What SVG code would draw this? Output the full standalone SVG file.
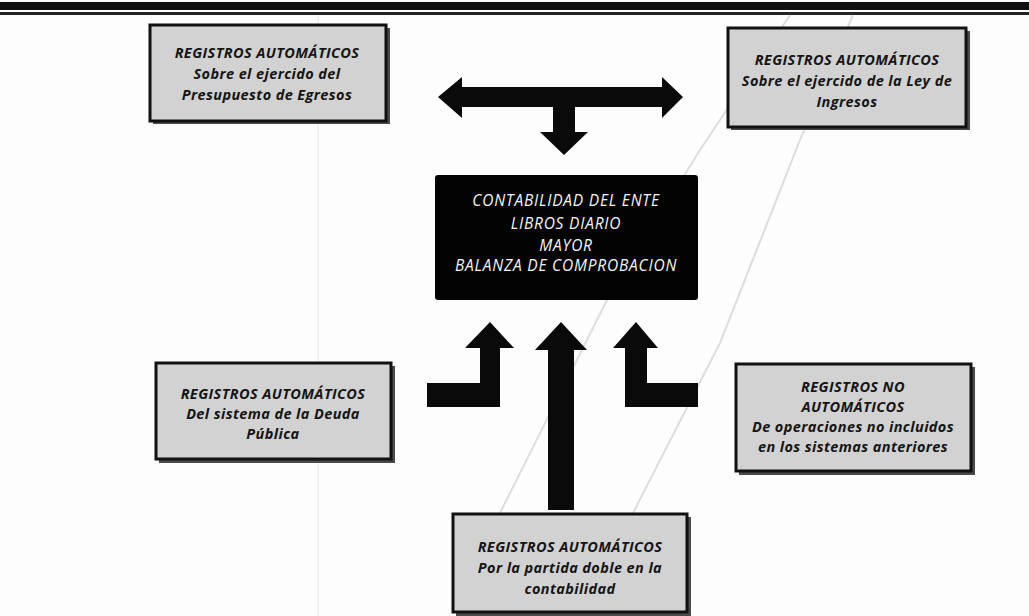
<svg xmlns="http://www.w3.org/2000/svg" width="1029" height="616" viewBox="0 0 1029 616">
<style>
.box{fill:#d2d2d2;stroke:#111;stroke-width:3}
.sh{fill:#4a4a4a}
.t{font-family:"Open Sans","Liberation Sans",sans-serif;font-weight:bold;font-style:italic;font-size:14.5px;fill:#151515;text-anchor:middle;letter-spacing:0.4px}
.w{font-family:"Open Sans","Liberation Sans",sans-serif;font-style:italic;font-size:15.5px;fill:#f4f4f4;text-anchor:middle;letter-spacing:0.8px}
.arr{fill:#0a0a0a}
.crease{fill:none;stroke:#c8c8c8;stroke-width:2;opacity:0.6}
</style>
<rect width="1029" height="616" fill="#fdfdfd"/>
<g id="header">
<rect x="0" y="2" width="1029" height="8" fill="#111"/>
<rect x="0" y="12" width="1029" height="3" fill="#222"/>
</g>
<g id="creases">
<line x1="318" y1="16" x2="318" y2="616" stroke="#e6e6e6" stroke-width="1"/>
<polyline class="crease" points="790,15 700,150 607,300 500,513 462,600"/>
<polyline class="crease" points="853,15 800,140 720,343 633,513 605,600"/>
</g>
<g id="connectors">
<polygon class="arr" points="438,97 462,77 462,87 662,87 662,77 683,97 662,118 662,107 575,107 575,132 588,132 564,155 540,132 553,132 553,107 462,107 462,118"/>
<polygon class="arr" points="427,383 480,383 480,348 465,348 490,322 514,348 500,348 500,407 427,407"/>
<polygon class="arr" points="548,510 548,350 535,350 561,322 587,350 574,350 574,510"/>
<polygon class="arr" points="698,383 647,383 647,348 658,348 636,322 613,348 625,348 625,407 698,407"/>
</g>
<g id="n_egresos">
<rect class="sh" x="153" y="28" width="237" height="96"/>
<rect class="box" x="150" y="25" width="236" height="96"/>
<text class="t" x="267" y="58">REGISTROS AUTOMÁTICOS</text>
<text class="t" x="267" y="79">Sobre el ejercido del</text>
<text class="t" x="267" y="100">Presupuesto de Egresos</text>
</g>
<g id="n_ingresos">
<rect class="sh" x="731" y="31" width="239" height="99"/>
<rect class="box" x="728" y="28" width="238" height="99"/>
<text class="t" x="847" y="65">REGISTROS AUTOMÁTICOS</text>
<text class="t" x="847" y="86">Sobre el ejercido de la Ley de</text>
<text class="t" x="847" y="107">Ingresos</text>
</g>
<g id="n_contabilidad">
<rect x="435" y="175" width="263" height="125" rx="3" fill="#030303"/>
<text class="w" x="566" y="206">CONTABILIDAD DEL ENTE</text>
<text class="w" x="566" y="229">LIBROS DIARIO</text>
<text class="w" x="566" y="251">MAYOR</text>
<text class="w" x="566" y="271">BALANZA DE COMPROBACION</text>
</g>
<g id="n_deuda">
<rect class="sh" x="159" y="366" width="236" height="97"/>
<rect class="box" x="156" y="363" width="235" height="96"/>
<text class="t" x="273" y="399">REGISTROS AUTOMÁTICOS</text>
<text class="t" x="273" y="419">Del sistema de la Deuda</text>
<text class="t" x="273" y="439">Pública</text>
</g>
<g id="n_no_auto">
<rect class="sh" x="739" y="367" width="236" height="108"/>
<rect class="box" x="736" y="364" width="235" height="107"/>
<text class="t" x="853" y="392">REGISTROS NO</text>
<text class="t" x="853" y="412">AUTOMÁTICOS</text>
<text class="t" x="853" y="432">De operaciones no incluidos</text>
<text class="t" x="853" y="452">en los sistemas anteriores</text>
</g>
<g id="n_partida">
<rect class="sh" x="456" y="517" width="235" height="99"/>
<rect class="box" x="453" y="514" width="234" height="98"/>
<text class="t" x="570" y="552">REGISTROS AUTOMÁTICOS</text>
<text class="t" x="570" y="573">Por la partida doble en la</text>
<text class="t" x="570" y="594">contabilidad</text>
</g>
</svg>
